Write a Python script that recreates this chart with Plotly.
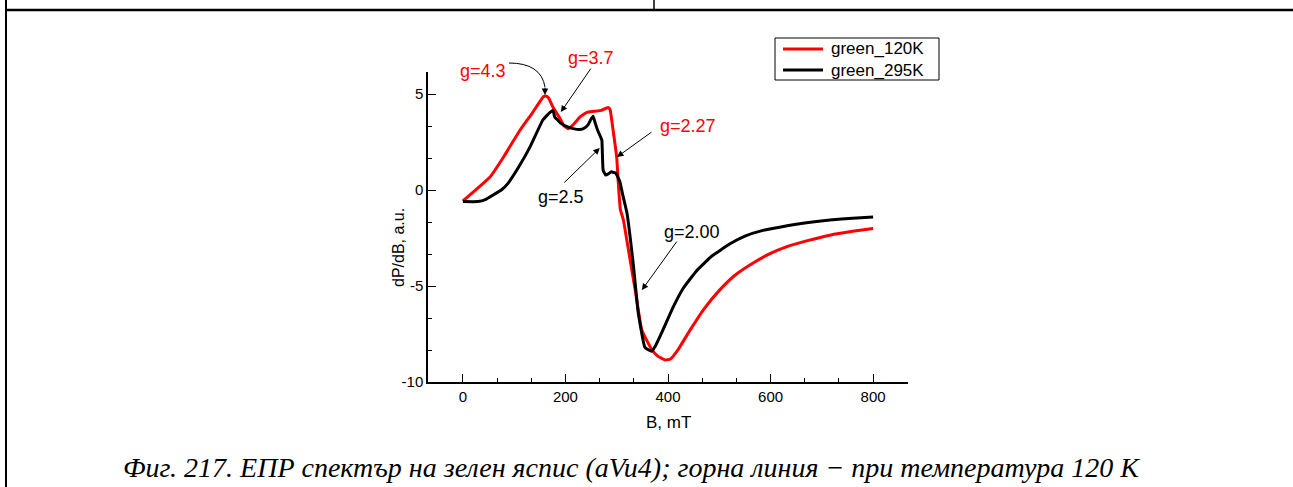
import plotly.graph_objects as go

# ---- Data ----
b_120 = [0, 53, 80, 111, 135, 157, 162, 167, 176, 189, 197, 205, 215, 228, 242, 255, 270, 283, 287, 293, 300, 303, 307, 313, 324, 336, 349, 368, 380, 394, 405, 420, 443, 470, 501, 530, 566, 600, 632, 670, 716, 760, 800]
y_120 = [-0.57, 0.68, 1.75, 3.1, 4.0, 4.86, 4.9, 4.8, 4.3, 3.75, 3.35, 3.2, 3.4, 3.8, 4.05, 4.1, 4.15, 4.3, 4.2, 3.1, 1.7, 0.4, -1.0, -1.56, -3.3, -5.2, -7.3, -8.3, -8.65, -8.85, -8.8, -8.3, -7.3, -6.2, -5.2, -4.45, -3.8, -3.3, -2.95, -2.65, -2.35, -2.15, -2.0]

b_295 = [0, 29, 45, 59, 75, 88, 110, 131, 156, 170, 176, 179, 183, 190, 203, 215, 228, 238, 244, 250, 254, 258, 263, 268, 271, 273.5, 278.5, 284, 289.5, 298, 306, 311, 320, 332, 342, 355, 368, 376, 384, 395, 410, 430, 456, 485, 521, 550, 585, 620, 650, 690, 716, 760, 800]
y_295 = [-0.6, -0.6, -0.48, -0.26, 0.0, 0.35, 1.25, 2.25, 3.65, 4.05, 4.15, 3.8, 3.7, 3.5, 3.3, 3.2, 3.15, 3.25, 3.4, 3.7, 3.85, 3.5, 3.1, 2.8, 2.6, 1.04, 0.78, 0.85, 0.95, 0.88, 0.45, -0.16, -1.2, -3.8, -6.4, -8.2, -8.4, -8.1, -7.65, -7.0, -6.1, -5.1, -4.2, -3.45, -2.8, -2.4, -2.1, -1.92, -1.78, -1.64, -1.56, -1.47, -1.4]

series_names = ["green_120K", "green_295K"]
series_colors = ["#ff0000", "#000000"]

x_ticks = [0, 200, 400, 600, 800]
x_ticklabels = ["0", "200", "400", "600", "800"]
y_ticks = [-10, -5, 0, 5]
y_ticklabels = ["-10", "-5", "0", "5"]

# g-factor labels: text, colour, arrow head (B, value)
ann_text = ["g=4.3", "g=3.7", "g=2.27", "g=2.5", "g=2.00"]
ann_color = ["#ff0000", "#ff0000", "#ff0000", "#000000", "#000000"]
ann_head_b = [160, 191, 300.5, 267, 349]
ann_head_v = [4.95, 4.06, 1.72, 2.19, -5.21]

W, H = 1293, 487
FONT = "Liberation Sans, Arial, sans-serif"

# layout positions (pixels); first arrow is drawn curved
ann_tail_px = [(0, -9), (31, -45), (36, -26), (-37, 36), (36, -50)]
ann_label_px = [(483, 71), (591, 58), (688, 126), (561, 197), (692, 232)]

fig = go.Figure()
for bx, yv, nm, col in [(b_120, y_120, series_names[0], series_colors[0]),
                        (b_295, y_295, series_names[1], series_colors[1])]:
    fig.add_trace(go.Scatter(x=bx, y=yv, mode="lines", name=nm,
                             line=dict(color=col, width=3, shape="spline", smoothing=0.35)))

fig.update_layout(
    width=W, height=H,
    margin=dict(l=0, r=0, t=0, b=0, autoexpand=False),
    paper_bgcolor="white", plot_bgcolor="white",
    font=dict(family=FONT, color="black"),
    showlegend=False,
    xaxis=dict(domain=[428 / W, 908 / W], range=[-68, 868], automargin=False,
               tickvals=x_ticks, ticktext=x_ticklabels, ticks="inside", ticklen=8, tickwidth=1.3,
               tickcolor="black",
               showline=True, linecolor="black", linewidth=1.5, showgrid=False,
               zeroline=False, tickfont=dict(size=15),
               minor=dict(dtick=200 / 3, tick0=0, ticks="inside", ticklen=4, tickcolor="black")),
    yaxis=dict(domain=[(H - 382) / H, (H - 72) / H], range=[-10, 6.15], automargin=False,
               tickvals=y_ticks, ticktext=y_ticklabels, ticks="inside", ticklen=8, tickwidth=1.3,
               tickcolor="black",
               showline=True, linecolor="black", linewidth=1.5, showgrid=False,
               zeroline=False, tickfont=dict(size=15),
               minor=dict(dtick=5 / 3, tick0=0, ticks="inside", ticklen=4, tickcolor="black")),
)

def px_x(p):
    return p / W

def px_y(p):
    return 1 - p / H

# axis titles
fig.add_annotation(x=px_x(668), y=px_y(422), xref="paper", yref="paper", text="B, mT",
                   showarrow=False, yanchor="middle", xanchor="center",
                   font=dict(size=17, family=FONT, color="black"))
fig.add_annotation(x=px_x(398), y=px_y(248), xref="paper", yref="paper", text="dP/dB, a.u.",
                   showarrow=False, textangle=-90, yanchor="middle", xanchor="center",
                   font=dict(size=16, family=FONT, color="black"))

# curved leader for g=4.3
fig.add_shape(type="path", xref="paper", yref="paper",
              path=f"M {px_x(509)},{px_y(63)} Q {px_x(541)},{px_y(63)} {px_x(545)},{px_y(87)}",
              line=dict(color="black", width=1))

# arrows
for hb, hv, tl in zip(ann_head_b, ann_head_v, ann_tail_px):
    fig.add_annotation(x=hb, y=hv, ax=tl[0], ay=tl[1], xref="x", yref="y", text="",
                       showarrow=True, arrowhead=2, arrowsize=1.3, arrowwidth=1, arrowcolor="black")
# labels
for t, c, p in zip(ann_text, ann_color, ann_label_px):
    fig.add_annotation(x=px_x(p[0]), y=px_y(p[1]), xref="paper", yref="paper", text=t,
                       showarrow=False, xanchor="center", yanchor="middle",
                       font=dict(size=18, color=c, family=FONT))

# manual legend box
fig.add_shape(type="rect", xref="paper", yref="paper", x0=px_x(775), x1=px_x(939),
              y0=px_y(80), y1=px_y(38), line=dict(color="black", width=1), fillcolor="white")
for i, (nm, col) in enumerate(zip(series_names, series_colors)):
    yy = 49 + i * 21
    fig.add_shape(type="line", xref="paper", yref="paper", x0=px_x(783), x1=px_x(823),
                  y0=px_y(yy), y1=px_y(yy), line=dict(color=col, width=3))
    fig.add_annotation(x=px_x(829), y=px_y(yy), xref="paper", yref="paper", text=nm,
                       showarrow=False, xanchor="left", yanchor="middle",
                       font=dict(size=17, family=FONT, color="black"))

# table borders
fig.add_shape(type="line", xref="paper", yref="paper", x0=px_x(5), x1=1.0, y0=px_y(10), y1=px_y(10),
              line=dict(color="black", width=2.5))
fig.add_shape(type="line", xref="paper", yref="paper", x0=px_x(6), x1=px_x(6), y0=0, y1=1,
              line=dict(color="black", width=2))
fig.add_shape(type="line", xref="paper", yref="paper", x0=px_x(654), x1=px_x(654), y0=px_y(10), y1=1,
              line=dict(color="black", width=1.5))

# caption
fig.add_annotation(x=px_x(631), y=px_y(467), xref="paper", yref="paper", showarrow=False,
                   xanchor="center", yanchor="middle",
                   text="<i>Фиг. 217. ЕПР спектър на зелен яспис (aVu4); горна линия − при температура 120 К</i>",
                   font=dict(size=28, family="Liberation Serif, Times New Roman, serif", color="black"))

fig.write_html("out.html")
